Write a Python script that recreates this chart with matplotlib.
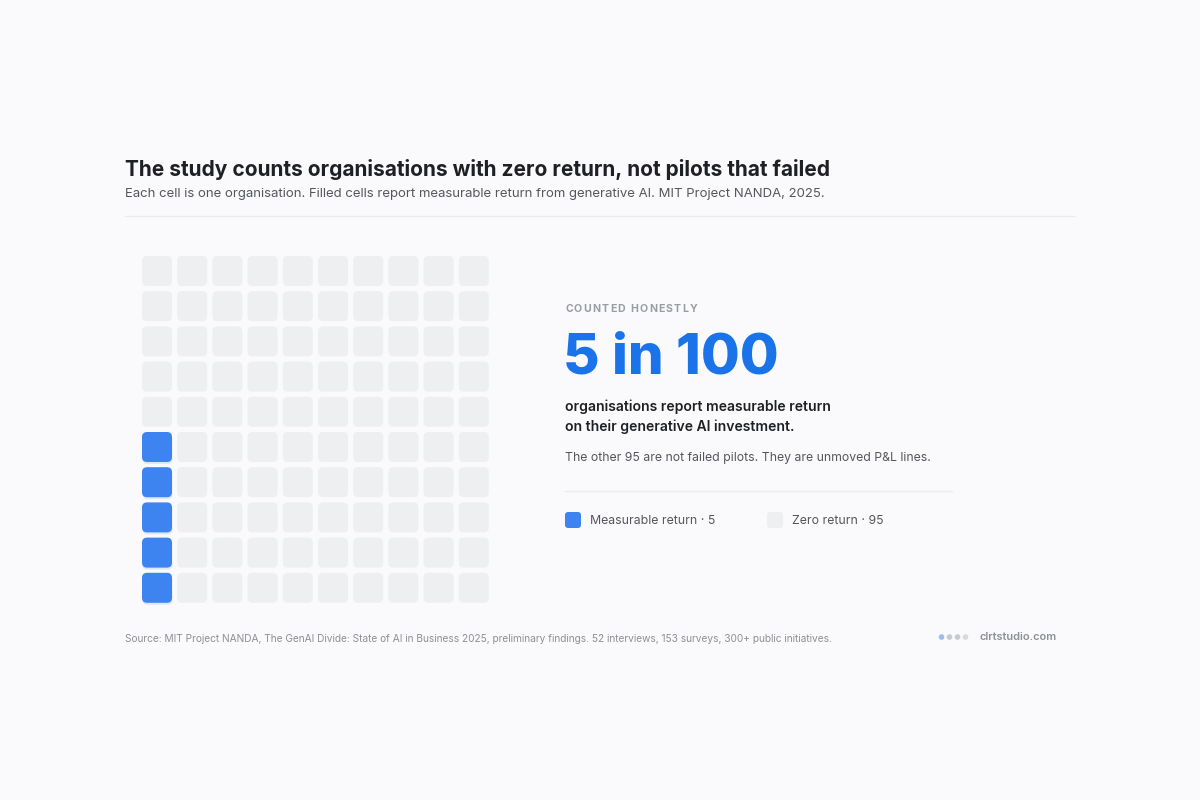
import numpy as np
import matplotlib
matplotlib.use("Agg")
import matplotlib.pyplot as plt
from matplotlib.patches import FancyBboxPatch, Circle

plt.rcParams['font.family'] = ['Inter', 'DejaVu Sans']

# data
total = 100
measurable = 5
n_cols = 10
n_rows = 10
legend_labels = ["Measurable return · 5", "Zero return · 95"]

title = "The study counts organisations with zero return, not pilots that failed"
subtitle = ("Each cell is one organisation. Filled cells report measurable return "
            "from generative AI. MIT Project NANDA, 2025.")
kicker = "COUNTED HONESTLY"
big_number = f"{measurable} in {total}"
claim = ["organisations report measurable return", "on their generative AI investment."]
note = f"The other {total - measurable} are not failed pilots. They are unmoved P&L lines."
source = ("Source: MIT Project NANDA, The GenAI Divide: State of AI in Business 2025, "
          "preliminary findings. 52 interviews, 153 surveys, 300+ public initiatives.")

BG = "#fafafc"
BLUE = "#3d84f0"
BIG_BLUE = "#1a73e8"
GRAY_CELL = "#eeeff1"

fig = plt.figure(figsize=(12, 8), dpi=100, facecolor=BG)
ax = fig.add_axes([0, 0, 1, 1])
ax.set_xlim(0, 1200)
ax.set_ylim(800, 0)
ax.axis("off")
ax.set_facecolor(BG)


def px(size):
    return size * 0.72


# header
ax.text(125, 169, title, fontsize=px(20.9), fontweight="bold", color="#1f2023",
        va="center", ha="left")
ax.text(125, 194, subtitle, fontsize=px(13.15), color="#55575c", va="center", ha="left")
ax.plot([125, 1075], [216, 216], color="#ececef", lw=1)

# waffle grid: fill column by column from bottom-left
x0, y0 = 142, 256
pitch = 35.2
size = 30
for i in range(total):
    col = i // n_rows
    row = n_rows - 1 - (i % n_rows)
    x = x0 + col * pitch
    y = y0 + row * pitch
    filled = i < measurable
    if filled:
        shadow = FancyBboxPatch((x + 0.5, y + 2), size, size,
                                boxstyle="round,pad=0,rounding_size=5",
                                fc="#3d84f0", ec="none", alpha=0.15, zorder=1)
        ax.add_patch(shadow)
    box = FancyBboxPatch((x, y), size, size, boxstyle="round,pad=0,rounding_size=5",
                         fc=BLUE if filled else GRAY_CELL, ec="none", zorder=2)
    ax.add_patch(box)

# kicker with letter spacing
fig.canvas.draw()
renderer = fig.canvas.get_renderer()
cx = 565
for ch in kicker:
    t = ax.text(cx, 308.5, ch, fontsize=px(10.5), fontweight="bold", color="#9a9ca1",
                va="center", ha="left")
    w = t.get_window_extent(renderer).width if ch != " " else 3.2
    cx += w + 1.2

ax.text(563, 358, big_number, fontsize=px(56.3), fontweight="heavy", color=BIG_BLUE,
        va="center", ha="left")
ax.text(565, 406.5, claim[0], fontsize=px(14), fontweight="semibold", color="#1f2023",
        va="center", ha="left")
ax.text(565, 426.5, claim[1], fontsize=px(14), fontweight="semibold", color="#1f2023",
        va="center", ha="left")
ax.text(565, 458.5, note, fontsize=px(12.25), color="#55575c", va="center", ha="left")
ax.plot([565, 952], [491, 491], color="#ececef", lw=1)

# legend
for lx, colr, lab in [(565, BLUE, legend_labels[0]), (767, GRAY_CELL, legend_labels[1])]:
    ax.add_patch(FancyBboxPatch((lx, 512), 16, 16, boxstyle="round,pad=0,rounding_size=3",
                                fc=colr, ec="none"))
    ax.text(lx + 25, 521.5, lab, fontsize=px(12.3), color="#55575c", va="center", ha="left")

# footer
ax.text(125, 639, source, fontsize=px(10.15), color="#8e9095", va="center", ha="left")
for k, dc in enumerate(["#9dbdee", "#c9cacd", "#c9cacd", "#d8d9dc"]):
    ax.add_patch(Circle((941.5 + k * 8, 637), 2.8, fc=dc, ec="none"))
ax.text(980, 636.5, "clrtstudio.com", fontsize=px(11), fontweight="semibold",
        color="#8e9095", va="center", ha="left")

fig.savefig("out.png", dpi=100, facecolor=BG)
